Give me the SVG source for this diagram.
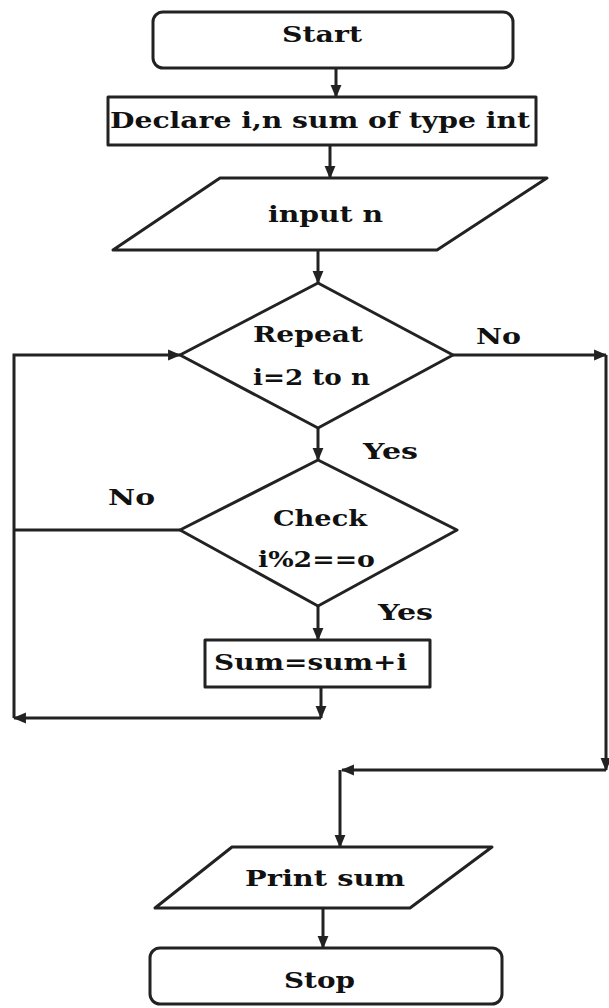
<svg xmlns="http://www.w3.org/2000/svg" width="609" height="1008" viewBox="0 0 609 1008">
  <style>
    .shape { fill: #ffffff; stroke: #222222; stroke-width: 3; stroke-linejoin: round; }
    .wire { fill: none; stroke: #222222; stroke-width: 3; }
    .label { font-family: "DejaVu Serif", "Liberation Serif", serif; font-weight: bold; font-size: 22px; fill: #111111; }
  </style>
  <defs>
    <marker id="arrow" markerUnits="userSpaceOnUse" markerWidth="13" markerHeight="13" viewBox="0 0 12 12" refX="11" refY="6" orient="auto">
      <path d="M0,1 L12,6 L0,11 z" fill="#222222"/>
    </marker>
  </defs>
  <rect width="609" height="1008" fill="#ffffff"/>

  <!-- connectors -->
  <g id="connectors">
    <path class="wire" d="M336 68 V97" marker-end="url(#arrow)"/>
    <path class="wire" d="M330 145 V178" marker-end="url(#arrow)"/>
    <path class="wire" d="M318 250 V283" marker-end="url(#arrow)"/>
    <path class="wire" d="M318 428 V460" marker-end="url(#arrow)"/>
    <path class="wire" d="M318 606 V640" marker-end="url(#arrow)"/>
    <path class="wire" d="M321 687 V718" marker-end="url(#arrow)"/>
    <path class="wire" d="M321 718 H14" marker-end="url(#arrow)"/>
    <path class="wire" d="M14 718 V355 H180" marker-end="url(#arrow)"/>
    <path class="wire" d="M180 530 H14"/>
    <path class="wire" d="M453 355 H606" marker-end="url(#arrow)"/>
    <path class="wire" d="M606 355 V770" marker-end="url(#arrow)"/>
    <path class="wire" d="M606 770 H342" marker-end="url(#arrow)"/>
    <path class="wire" d="M340 770 V847" marker-end="url(#arrow)"/>
    <text class="label" x="476" y="344" textLength="45" lengthAdjust="spacingAndGlyphs">No</text>
    <text class="label" x="363" y="459" textLength="55" lengthAdjust="spacingAndGlyphs">Yes</text>
    <text class="label" x="108" y="505" textLength="47" lengthAdjust="spacingAndGlyphs">No</text>
    <text class="label" x="378" y="620" textLength="55" lengthAdjust="spacingAndGlyphs">Yes</text>
  </g>

  <g id="start">
    <rect class="shape" x="153" y="12" width="360" height="56" rx="10"/>
    <text class="label" x="282" y="42" textLength="80" lengthAdjust="spacingAndGlyphs">Start</text>
  </g>

  <g id="declare">
    <rect class="shape" x="108" y="97" width="428" height="48"/>
    <text class="label" x="110" y="128" textLength="420" lengthAdjust="spacingAndGlyphs">Declare i,n sum of type int</text>
  </g>

  <g id="input">
    <polygon class="shape" points="220,178 547,178 437,250 113,250"/>
    <text class="label" x="268" y="222" textLength="115" lengthAdjust="spacingAndGlyphs">input n</text>
  </g>

  <g id="repeat">
    <polygon class="shape" points="318,283 453,355 318,428 180,355"/>
    <text class="label" x="253" y="342" textLength="110" lengthAdjust="spacingAndGlyphs">Repeat</text>
    <text class="label" x="253" y="385" textLength="117" lengthAdjust="spacingAndGlyphs">i=2 to n</text>
  </g>

  <g id="check">
    <polygon class="shape" points="318,460 457,530 318,606 180,530"/>
    <text class="label" x="273" y="526" textLength="94" lengthAdjust="spacingAndGlyphs">Check</text>
    <text class="label" x="258" y="567" textLength="117" lengthAdjust="spacingAndGlyphs">i%2==o</text>
  </g>

  <g id="accumulate">
    <rect class="shape" x="205" y="640" width="225" height="47"/>
    <text class="label" x="214" y="670" textLength="193" lengthAdjust="spacingAndGlyphs">Sum=sum+i</text>
  </g>

  <g id="print">
    <polygon class="shape" points="232,847 492,847 410,908 155,908"/>
    <text class="label" x="245" y="886" textLength="160" lengthAdjust="spacingAndGlyphs">Print sum</text>
  </g>

  <g id="stop">
    <path class="wire" d="M323 908 V948" marker-end="url(#arrow)"/>
    <rect class="shape" x="150" y="948" width="352" height="56" rx="10"/>
    <text class="label" x="284" y="988" textLength="71" lengthAdjust="spacingAndGlyphs">Stop</text>
  </g>
</svg>
